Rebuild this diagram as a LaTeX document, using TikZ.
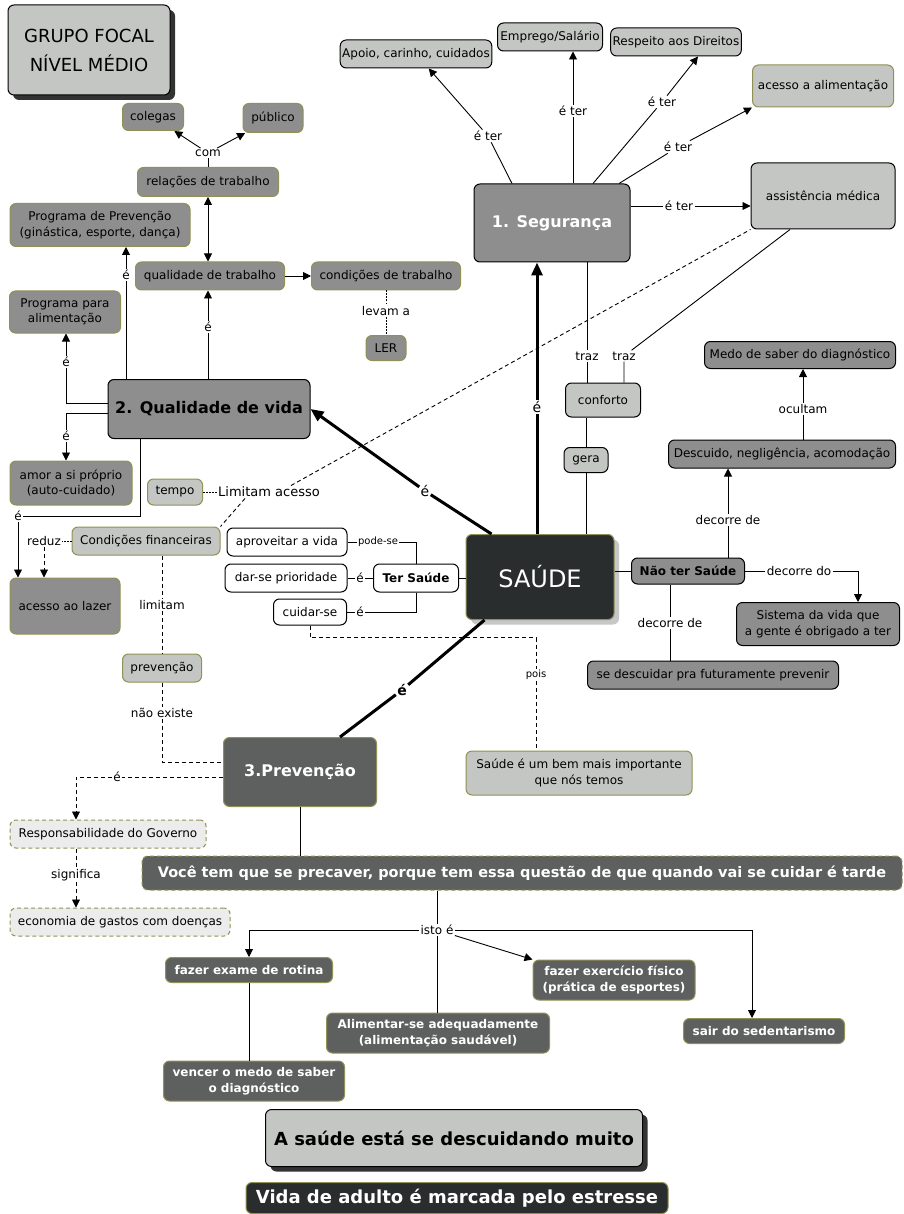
\documentclass[tikz,border=0pt]{standalone}
\usepackage{fontspec}
\setmainfont{DejaVu Sans}
\usetikzlibrary{arrows.meta,shadows}
\definecolor{cm_mid}{RGB}{141,142,141}
\definecolor{cm_lite}{RGB}{196,198,196}
\definecolor{cm_dark}{RGB}{93,96,95}
\definecolor{cm_black}{RGB}{42,45,46}
\definecolor{cm_olive}{RGB}{145,145,85}
\definecolor{cm_pale}{RGB}{236,236,236}
\tikzstyle{box}=[rounded corners=6pt,draw=black,line width=1pt,align=center,
  inner sep=2pt,font=\fontsize{12}{15.5}\selectfont]
\tikzstyle{gm}=[box,fill=cm_mid,draw=cm_olive]
\tikzstyle{gmk}=[box,fill=cm_mid]
\tikzstyle{gl}=[box,fill=cm_lite,draw=cm_olive]
\tikzstyle{glk}=[box,fill=cm_lite]
\tikzstyle{wn}=[box,fill=white]
\tikzstyle{dn}=[box,fill=cm_dark,draw=cm_olive,text=white,
  font=\bfseries\fontsize{12}{15.5}\selectfont]
\tikzstyle{pn}=[box,fill=cm_pale,draw=cm_olive,dash pattern=on 4pt off 3pt]
\tikzstyle{lbl}=[fill=white,inner sep=1pt,font=\fontsize{12}{14}\selectfont]
\tikzstyle{arr}=[-{Triangle[length=8pt,width=8pt]}]
\tikzstyle{darr}=[{Triangle[length=8pt,width=8pt]}-{Triangle[length=8pt,width=8pt]}]
\tikzstyle{heavy}=[line width=3pt]
\tikzstyle{harr}=[-{Triangle[length=13pt,width=11pt]}]
\tikzstyle{dsh}=[dash pattern=on 4pt off 3pt]
\tikzstyle{dtt}=[dash pattern=on 1.5pt off 1.5pt]
\tikzstyle{dkshadow}=[drop shadow={shadow xshift=5pt,shadow yshift=-5pt,fill=black!80,opacity=1}]
\tikzstyle{ltshadow}=[drop shadow={shadow xshift=5pt,shadow yshift=-5pt,fill=black!22,opacity=1}]
\begin{document}
\begin{tikzpicture}[x=1pt,y=-1pt,line width=0.9pt]
    \useasboundingbox (0,0) rectangle (903,1214);
    \fill[white] (0,0) rectangle (903,1214);
    \node [style=glk,dkshadow,minimum width=162,minimum height=90,
      font=\fontsize{18}{29}\selectfont] (ttl) at (89,50) {GRUPO FOCAL\\NÍVEL MÉDIO};
    \node [style=gm,minimum width=61,minimum height=27] (col) at (153,117) {colegas};
    \node [style=gm,minimum width=60,minimum height=29] (pub) at (273,118) {público};
    \node [style=gm,minimum width=141,minimum height=29] (rel) at (208,182) {relações de trabalho};
    \node [style=gm,minimum width=180,minimum height=43] (ppv) at (100,225) {Programa de Prevenção\\(ginástica, esporte, dança)};
    \node [style=gm,minimum width=149,minimum height=28] (qt) at (210,276) {qualidade de trabalho};
    \node [style=gm,minimum width=149,minimum height=28] (ct) at (386,276) {condições de trabalho};
    \node [style=gm,minimum width=40,minimum height=25] (ler) at (386,348) {LER};
    \node [style=gm,minimum width=111,minimum height=42] (ppa) at (65,312) {Programa para\\alimentação};
    \node [style=gmk,minimum width=202,minimum height=59,
      font=\bfseries\fontsize{16}{19}\selectfont] (qv) at (209,409) {2. Qualidade de vida};
    \node [style=gm,minimum width=122,minimum height=44] (ams) at (71,483) {amor a si próprio\\(auto-cuidado)};
    \node [style=gl,minimum width=55,minimum height=26] (tp) at (175,492) {tempo};
    \node [style=gl,minimum width=148,minimum height=28] (cf) at (146,541) {Condições financeiras};
    \node [style=gm,minimum width=110,minimum height=56] (lz) at (65,606) {acesso ao lazer};
    \node [style=wn,minimum width=120,minimum height=28] (av) at (287,542) {aproveitar a vida};
    \node [style=wn,minimum width=122,minimum height=28] (dp) at (286,578) {dar-se prioridade};
    \node [style=wn,minimum width=73,minimum height=26] (cs) at (310,612) {cuidar-se};
    \node [style=wn,minimum width=85,minimum height=28,
      font=\bfseries\fontsize{12}{14}\selectfont] (ts) at (416,578) {Ter Saúde};
    \node [style=box,fill=cm_black,draw=cm_olive,text=white,ltshadow,minimum width=148,
      minimum height=85,font=\fontsize{24}{28}\selectfont] (sa) at (540,577) {SAÚDE};
    \node [style=gmk,minimum width=113,minimum height=26,
      font=\bfseries\fontsize{12}{14}\selectfont] (nts) at (688,571) {Não ter Saúde};
    \node [style=gmk,text=white,minimum width=156,minimum height=78,
      font=\bfseries\fontsize{16}{19}\selectfont] (seg) at (552,223) {1. Segurança};
    \node [style=glk,minimum width=148,minimum height=28] (apo) at (416,54) {Apoio, carinho, cuidados};
    \node [style=glk,minimum width=105,minimum height=28] (emp) at (550,37) {Emprego/Salário};
    \node [style=glk,minimum width=130,minimum height=28] (resp) at (676,42) {Respeito aos Direitos};
    \node [style=gl,minimum width=141,minimum height=42] (aca) at (823,86) {acesso a alimentação};
    \node [style=glk,minimum width=144,minimum height=66] (ass) at (823,196) {assistência médica};
    \node [style=glk,minimum width=75,minimum height=34] (cft) at (603,400) {conforto};
    \node [style=glk,minimum width=44,minimum height=25] (gr) at (586,460) {gera};
    \node [style=gmk,minimum width=191,minimum height=27] (md) at (800,355) {Medo de saber do diagnóstico};
    \node [style=gmk,minimum width=227,minimum height=28] (dsc) at (782,454) {Descuido, negligência, acomodação};
    \node [style=gmk,minimum width=163,minimum height=43] (sis) at (818,624) {Sistema da vida que\\a gente é obrigado a ter};
    \node [style=gmk,minimum width=251,minimum height=28] (sdp) at (713,675) {se descuidar pra futuramente prevenir};
    \node [style=gl,minimum width=79,minimum height=28] (prv) at (162,668) {prevenção};
    \node [style=dn,minimum width=153,minimum height=69,
      font=\bfseries\fontsize{16}{19}\selectfont] (p3) at (300,772) {3.Prevenção};
    \node [style=gl,minimum width=226,minimum height=44] (bm) at (579,773) {Saúde é um bem mais importante\\que nós temos};
    \node [style=pn,minimum width=196,minimum height=28] (gov) at (108,834) {Responsabilidade do Governo};
    \node [style=pn,minimum width=220,minimum height=28] (eco) at (120,922) {economia de gastos com doenças};
    \node [style=dn,dash pattern=on 4pt off 3pt,minimum width=760,minimum height=34,
      font=\bfseries\fontsize{14.5}{17}\selectfont] (vc) at (522,873) {Você tem que se precaver, porque tem essa questão de que quando vai se cuidar é tarde};
    \node [style=dn,minimum width=167,minimum height=25] (fx) at (249,970) {fazer exame de rotina};
    \node [style=dn,minimum width=223,minimum height=40] (al) at (438,1033) {Alimentar-se adequadamente\\(alimentação saudável)};
    \node [style=dn,minimum width=162,minimum height=40] (fe) at (614,980) {fazer exercício físico\\(prática de esportes)};
    \node [style=dn,minimum width=161,minimum height=25] (sd) at (764,1031) {sair do sedentarismo};
    \node [style=dn,minimum width=181,minimum height=40] (vm) at (254,1081) {vencer o medo de saber\\o diagnóstico};
    \node [style=glk,dkshadow,minimum width=377,minimum height=57,
      font=\bfseries\fontsize{18}{21}\selectfont] (asd) at (454,1138) {A saúde está se descuidando muito};
    \node [style=box,fill=cm_black,draw=cm_olive,text=white,minimum width=422,minimum height=31,
      font=\bfseries\fontsize{18}{21}\selectfont] (vd) at (457,1198) {Vida de adulto é marcada pelo estresse};

    \node [style=lbl] (l_cm) at (208,153) {com};
    \node [style=lbl] (l_e1) at (208,327) {é};
    \node [style=lbl] (l_e2) at (126,275) {é};
    \node [style=lbl] (l_e3) at (66,362) {é};
    \node [style=lbl] (l_e4) at (66,436) {é};
    \node [style=lbl] (l_e5) at (18,516) {é};
    \node [style=lbl] (l_rd) at (44,541) {reduz};
    \node [style=lbl,font=\fontsize{13}{15}\selectfont] (l_la) at (269,492) {Limitam acesso};
    \node [style=lbl] (l_lm) at (162,605) {limitam};
    \node [style=lbl] (l_ne) at (162,713) {não existe};
    \node [style=lbl] (l_e6) at (117,777) {é};
    \node [style=lbl] (l_sg) at (76,875) {significa};
    \node [style=lbl] (l_ie) at (437,930) {isto é};
    \node [style=lbl] (l_lv) at (386,311) {levam a};
    \node [style=lbl] (l_et1) at (488,136) {é ter};
    \node [style=lbl] (l_et2) at (573,111) {é ter};
    \node [style=lbl] (l_et3) at (662,102) {é ter};
    \node [style=lbl] (l_et4) at (678,147) {é ter};
    \node [style=lbl] (l_et5) at (679,206) {é ter};
    \node [style=lbl,font=\fontsize{14}{16}\selectfont] (l_b1) at (425,491) {é};
    \node [style=lbl,font=\fontsize{14}{16}\selectfont] (l_b2) at (537,407) {é};
    \node [style=lbl,font=\bfseries\fontsize{14}{16}\selectfont] (l_b3) at (402,690) {é};
    \node [style=lbl] (l_tz1) at (587,356) {traz};
    \node [style=lbl] (l_tz2) at (624,356) {traz};
    \node [style=lbl,font=\fontsize{10}{12}\selectfont] (l_ps) at (378,542) {pode-se};
    \node [style=lbl] (l_e7) at (360,578) {é};
    \node [style=lbl] (l_e8) at (360,612) {é};
    \node [style=lbl,font=\fontsize{10}{12}\selectfont] (l_po) at (536,675) {pois};
    \node [style=lbl] (l_dd1) at (728,520) {decorre de};
    \node [style=lbl] (l_oc) at (803,409) {ocultam};
    \node [style=lbl] (l_dd2) at (799,571) {decorre do};
    \node [style=lbl] (l_dd3) at (670,623) {decorre de};

    \draw ([xshift=-40pt]seg.north) to (l_et1);
    \draw [arr] (l_et1) to (apo);
    \draw (seg.north -| l_et2) to (l_et2);
    \draw [arr] (l_et2) to (l_et2 |- emp.south);
    \draw ([xshift=41pt]seg.north) to (l_et3);
    \draw [arr] (l_et3) to ([xshift=22pt]resp.south);
    \draw ([xshift=67pt]seg.north) to (l_et4);
    \draw [arr] (l_et4) to (aca.south west);
    \draw ([yshift=17pt]seg.east) to (l_et5);
    \draw [arr] (l_et5) to (l_et5 -| ass.west);
    \draw (l_tz1 |- seg.south) -- (l_tz1) -- (l_tz1 |- cft.north);
    \draw ([xshift=-33pt]ass.south) -- (l_tz2) -- (l_tz2 |- cft.north);
    \draw (gr |- sa.north) -- (gr) -- (gr |- cft.south);
    \draw [heavy,harr] ([xshift=26pt]sa.north west) -- (l_b1) -- (qv.east);
    \draw [heavy,harr] (l_b2 |- sa.north) -- (l_b2) -- (l_b2 |- seg.south);
    \draw [heavy] ([xshift=19pt]sa.south west) -- (l_b3) -- ([xshift=40pt]p3.north);
    \draw (sa.west |- ts) to (ts);
    \draw (ts.north) |- (l_ps) -- (av);
    \draw (ts) -- (l_e7) -- (dp);
    \draw (ts.south) |- (l_e8) -- (cs);
    \draw [dsh] (cs.south) -- ++(0,12) -| (l_po) -- (l_po |- bm.north);
    \draw (sa.east |- nts) to (nts);
    \draw [arr] (l_dd1 |- nts.north) -- (l_dd1) -- (l_dd1 |- dsc.south);
    \draw [arr] (l_oc |- dsc.north) -- (l_oc) -- (l_oc |- md.south);
    \draw [arr] (nts) -- (l_dd2) -| ([xshift=40pt]sis.north);
    \draw (l_dd3 |- nts.south) -- (l_dd3) -- (l_dd3 |- sdp.north);
    \draw [arr] (qv.north -| l_e1) -- (l_e1) -- (l_e1 |- qt.south);
    \draw [arr] (qv.north -| l_e2) -- (l_e2) -- (l_e2 |- ppv.south);
    \draw [arr] ([yshift=6pt]qv.west) -| (l_e3) -- (l_e3 |- ppa.south);
    \draw [arr] ([yshift=-4pt]qv.west) -| (l_e4) -- (l_e4 |- ams.north);
    \draw [arr] ([xshift=-69pt]qv.south) |- (l_e5) -- (l_e5 |- lz.north);
    \draw (rel) to (l_cm);
    \draw [arr] (l_cm) to (col);
    \draw [arr] (l_cm) to (pub);
    \draw [darr] (rel.south) to (rel.south |- qt.north);
    \draw [arr] (qt) to (ct);
    \draw [dtt] (ct) -- (l_lv) -- (ler);
    \draw [dtt] (tp) to (l_la);
    \draw [dsh] ([xshift=22pt]l_la.north) to (ass.south west);
    \draw [dsh] ([xshift=-24pt]l_la.south) to (cf.north east);
    \draw [dtt] (cf) to (l_rd);
    \draw [dsh,arr] (l_rd) to (l_rd |- lz.north);
    \draw [dsh] (cf.south -| l_lm) -- (l_lm) -- (prv);
    \draw [dsh] (prv) -- (l_ne) |- ([yshift=10pt]p3.west);
    \draw [dsh,arr] ([yshift=-5pt]p3.west) -- (l_e6) -| ([xshift=-32pt]gov.north);
    \draw [dsh,arr] (l_sg |- gov.south) -- (l_sg) -- (l_sg |- eco.north);
    \draw (p3) to (p3 |- vc.north);
    \draw (l_ie |- vc.south) to (l_ie);
    \draw [arr] (l_ie) -| (fx);
    \draw [arr] (l_ie) -| ([xshift=-12pt]sd.north);
    \draw [arr] (l_ie) to (fe.north west);
    \draw (l_ie) to (l_ie |- al.north);
    \draw (fx.south) to (fx.south |- vm.north);
  \end{tikzpicture}
\end{document}
